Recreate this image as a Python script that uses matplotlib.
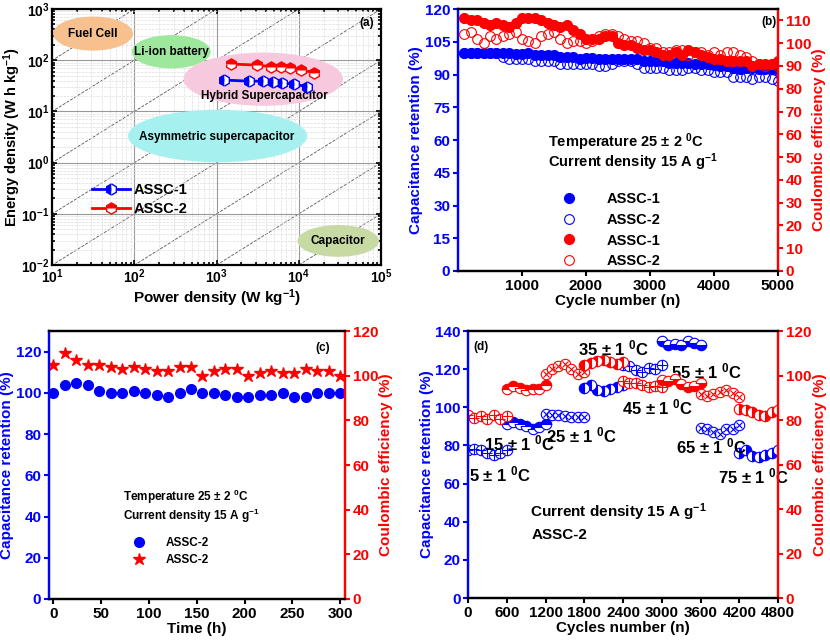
import numpy as np
import matplotlib
matplotlib.use("Agg")
import matplotlib.pyplot as plt
from matplotlib.patches import Ellipse

plt.rcParams['font.family'] = 'Liberation Sans'
plt.rcParams['font.weight'] = 'bold'
plt.rcParams['axes.labelweight'] = 'bold'
plt.rcParams['mathtext.default'] = 'regular'
FS = 8.5

# ---------------- data ----------------
# (a) Ragone
p1 = [1225, 2443, 3700, 4875, 6310, 8630, 12590]
e1 = [41, 39, 39, 38, 36.5, 34, 30.5]
p2 = [1514, 3076, 4571, 6026, 7727, 10670, 15420]
e2 = [84, 80.5, 74.8, 72.5, 69.3, 64.3, 57]
regions = ["Fuel Cell", "Li-ion battery", "Hybrid Supercapacitor", "Asymmetric supercapacitor", "Capacitor"]

# (b) cycling
cycles_b = list(range(100, 5001, 100))
cr1_b = [100,100,100,100,100,100,100,100,99.5,99.5,
         100,99,99,99,99,98,98,98,97,97.5,
         97.5,97,97,97,97,97,97,97,96,96,
         96,96,95.5,95.5,95.5,95.5,95,95,95,94.5,
         94,94,93,92.5,93,93,92.5,92.5,92.5,92]
cr2_b = [100,100,100,100,100,100,98,97,97,97,
         97,96,96,96,96,95,95,95,95,95,
         95,94,94,95,96,96,96,95,93,93,
         93,93,92,92,92,93,93,92,92,91,
         91,91,89,89,89,88,89,89,88,87]
ce1_b = [111,110,110,109,108,109,108,107,109,111,
         111,111,110,109,108,107,108,106,104,102,
         102,102,103,103,100,99,99,98,97,97,
         96,95,95,96,95,97,96,95,94,93,
         93,92,92,92,92,90,91,91,91,92]
ce2_b = [104,105,102,100,103,102,103,104,105,102,
         101,100,103,104,105,102,100,101,101,100,
         101,103,104,104,103,102,101,101,100,98,
         98,96,96,97,97,95,96,96,95,96,
         95,96,96,95,94,92,91,90,91,90]

# (c) time
time_c = [0,12,24,36,48,60,72,84,96,108,120,132,144,156,168,180,192,204,216,228,240,252,264,276,288,300]
cr_c = [100,104,105,104,101,100,100,101,100,99,98,100,102,100,100,99,98,98,99,99,100,98,98,100,100,100]
ce_c = [105,110,107,105,105,104,103,104,103,102,102,104,104,100,102,103,103,100,101,102,101,101,103,102,102,100]

# (d) temperature
temps = ["5", "15", "25", "35", "45", "55", "65", "75"]
seg_start = [0, 600, 1200, 1800, 2400, 3000, 3600, 4200]
seg_offsets = [0, 100, 200, 300, 400, 500, 600]
cr_d = [[77.7,78.2,77.7,76,75,76,77.4],
        [91.4,92.2,91.4,90.2,88.7,89.6,91.4],
        [96.6,96,96,95.4,94.9,94.9,94.9],
        [110,111.5,109,108.8,109.4,110.6,111.5],
        [122.3,121.4,119.3,118.7,120.5,120.2,122],
        [134.7,132.8,133.3,132.8,135,133.9,132.5],
        [89,88.4,87.3,86.1,88.4,88.7,90.5],
        [76,77.4,74.7,73.8,75,76.1,77.4]]
ce_d = [[82.3,80.9,81.8,80.3,82.3,80.6,82],
        [94,95.3,94.3,93.3,94,93.8,95.8],
        [100.8,103,104.5,105.3,103,100.8,101.6],
        [104.9,105.6,106.4,107.1,106,105.3,106],
        [97.4,96.6,96.6,95.9,94.8,95.3,94.8],
        [97.8,97.4,98.6,96.3,94.8,95.5,96.6],
        [91.8,91,91.8,92.6,93.3,92.2,90.3],
        [84.8,84.3,83.6,82.3,82,83.6,84.3]]
label_pos = [(20, 65), (250, 81), (1200, 85), (1700, 131), (2379, 100), (3142, 119), (3214, 79.6), (3863, 64)]

BLUE = '#0000FF'
RED = '#FF0000'

fig = plt.figure(figsize=(8.3, 6.44), dpi=100)

def style_twin(ax, ax2):
    for a in (ax, ax2):
        for s in a.spines.values():
            s.set_linewidth(1.6)
    ax.spines['left'].set_color(BLUE)
    ax2.spines['right'].set_color(RED)
    ax2.spines['left'].set_color(BLUE)
    ax.spines['right'].set_color(RED)
    ax.tick_params(axis='y', colors=BLUE, labelsize=FS + 2.5, width=1.5, labelcolor=BLUE, pad=2)
    ax2.tick_params(axis='y', colors=RED, labelsize=FS + 2.5, width=1.5, labelcolor=RED, pad=2)
    ax.tick_params(axis='x', labelsize=FS + 2.5, width=1.5, pad=2)

# ---------------- (a) ----------------
ax = fig.add_axes([0.063, 0.5885, 0.396, 0.3975])
ax.set_xscale('log'); ax.set_yscale('log')
ax.set_xlim(10, 1e5); ax.set_ylim(1e-2, 1e3)
ax.grid(True, which='major', color='#999999', lw=0.8)
ax.grid(True, which='minor', color='#dddddd', lw=0.5, ls='--')
xs = np.array([1, 1e6])
for k in range(-6, 2):
    ax.plot(xs, xs * 10.0**k, ls='--', color='#555555', lw=0.6, zorder=1)
ells = [(0.124, 0.904, 0.243, 0.133, '#F7C08F'),
        (0.362, 0.833, 0.24, 0.13, '#9EE89E'),
        (0.642, 0.726, 0.485, 0.208, '#F7C9DE'),
        (0.503, 0.504, 0.545, 0.205, '#A6F0F0'),
        (0.87, 0.094, 0.248, 0.124, '#C8DAA4')]
tpos = [(0.124, 0.904), (0.362, 0.833), (0.645, 0.66), (0.5, 0.5), (0.87, 0.094)]
for (cx, cy, w, h, c), name, (tx, ty) in zip(ells, regions, tpos):
    ax.add_patch(Ellipse((cx, cy), w, h, transform=ax.transAxes, color=c, zorder=2, lw=0))
    ax.text(tx, ty, name, transform=ax.transAxes, ha='center', va='center', fontsize=FS, zorder=3)
l1, = ax.plot(p1, e1, '-', color=BLUE, lw=2, marker='h', ms=8, fillstyle='left',
              markerfacecoloralt='white', mec=BLUE, zorder=4, label='ASSC-1')
l2, = ax.plot(p2, e2, '-', color=RED, lw=2, marker='h', ms=8, fillstyle='top',
              markerfacecoloralt='white', mec=RED, zorder=4, label='ASSC-2')
ax.legend(handles=[l1, l2], loc='upper left', bbox_to_anchor=(0.08, 0.37), frameon=False,
          fontsize=FS + 2, handlelength=2.6, handletextpad=0.3, labelspacing=0.3)
ax.text(0.98, 0.97, '(a)', transform=ax.transAxes, ha='right', va='top', fontsize=FS)
ax.set_xlabel('Power density (W kg$^{-1}$)', fontsize=FS + 2.5, labelpad=1)
ax.set_ylabel('Energy density (W h kg$^{-1}$)', fontsize=FS + 2, labelpad=-1)
ax.tick_params(which='both', direction='in', top=True, right=True, labelsize=FS + 1.5, width=1.2, pad=2)
for s in ax.spines.values():
    s.set_linewidth(1.6)

# ---------------- (b) ----------------
ax = fig.add_axes([0.5518, 0.5792, 0.3855, 0.4068])
ax2 = ax.twinx()
ax.set_xlim(0, 5000); ax.set_ylim(0, 120); ax2.set_ylim(0, 115)
ax.set_xticks([1000, 2000, 3000, 4000, 5000])
ax.set_yticks(range(0, 121, 15)); ax2.set_yticks(range(0, 111, 10))
h1, = ax.plot(cycles_b, cr1_b, 'o', color=BLUE, ms=7, ls='none', label='ASSC-1')
h2, = ax.plot(cycles_b, cr2_b, 'o', mfc='none', mec=BLUE, ms=7, mew=0.8, ls='none', label='ASSC-2')
h3, = ax2.plot(cycles_b, ce1_b, 'o', color=RED, ms=7, ls='none', label='ASSC-1')
h4, = ax2.plot(cycles_b, ce2_b, 'o', mfc='none', mec=RED, ms=7, mew=0.8, ls='none', label='ASSC-2')
style_twin(ax, ax2)
ax.set_xlabel('Cycle number (n)', fontsize=FS + 2.5, labelpad=1)
ax.set_ylabel('Capacitance retention (%)', fontsize=FS + 2.5, color=BLUE, labelpad=1)
ax2.set_ylabel('Coulombic efficiency (%)', fontsize=FS + 2.5, color=RED, labelpad=1)
ax.text(0.28, 0.49, 'Temperature 25 $\\pm$ 2 $^0$C', transform=ax.transAxes, fontsize=FS + 2, va='center')
ax.text(0.28, 0.415, 'Current density 15 A g$^{-1}$', transform=ax.transAxes, fontsize=FS + 2, va='center')
ax2.legend(handles=[h1, h2, h3, h4], loc='upper left', bbox_to_anchor=(0.26, 0.35), frameon=False,
           fontsize=FS + 2, handletextpad=1.6, labelspacing=0.45)
ax2.text(0.995, 0.975, '(b)', transform=ax.transAxes, ha='right', va='top', fontsize=FS)

# ---------------- (c) ----------------
ax = fig.add_axes([0.059, 0.0699, 0.3566, 0.4161])
ax2 = ax.twinx()
ax.set_xlim(-4.5, 305); ax.set_ylim(0, 130); ax2.set_ylim(0, 120)
ax.set_xticks(range(0, 301, 50))
ax.set_yticks(range(0, 121, 20)); ax2.set_yticks(range(0, 121, 20))
c1, = ax.plot(time_c, cr_c, 'o', color=BLUE, ms=7, ls='none', label='ASSC-2')
c2, = ax2.plot(time_c, ce_c, '*', color=RED, ms=9, ls='none', label='ASSC-2')
style_twin(ax, ax2)
for s in ('top', 'bottom'):
    ax.spines[s].set_color('black'); ax2.spines[s].set_color('black')
ax.set_xlabel('Time (h)', fontsize=FS + 2.5, labelpad=1)
ax.set_ylabel('Capacitance retention (%)', fontsize=FS + 2.5, color=BLUE, labelpad=1)
ax2.set_ylabel('Coulombic efficiency (%)', fontsize=FS + 2.5, color=RED, labelpad=1)
ax.text(0.25, 0.38, 'Temperature 25 $\\pm$ 2 $^0$C', transform=ax.transAxes, fontsize=FS, va='center')
ax.text(0.25, 0.31, 'Current density 15 A g$^{-1}$', transform=ax.transAxes, fontsize=FS, va='center')
ax2.legend(handles=[c1, c2], loc='upper left', bbox_to_anchor=(0.23, 0.27), frameon=False,
           fontsize=FS, handletextpad=1.2, labelspacing=0.4)
ax2.text(0.95, 0.96, '(c)', transform=ax.transAxes, ha='right', va='top', fontsize=FS)

# ---------------- (d) ----------------
ax = fig.add_axes([0.5639, 0.0714, 0.3735, 0.4146])
ax2 = ax.twinx()
ax.set_xlim(0, 4800); ax.set_ylim(0, 140); ax2.set_ylim(0, 120)
ax.set_xticks(range(0, 4801, 600))
ax.set_yticks(range(0, 141, 20)); ax2.set_yticks(range(0, 121, 20))
styles = ['plus', 'top', 'x', 'left', 'plus', 'bottom', 'x', 'right']
for i in range(8):
    xx = [seg_start[i] + o for o in seg_offsets]
    for a, yy, col in ((ax, cr_d[i], BLUE), (ax2, ce_d[i], RED)):
        st = styles[i]
        if st in ('plus', 'x'):
            a.plot(xx, yy, 'o', mfc='white', mec=col, ms=7.5, mew=0.8, ls='none')
            a.plot(xx, yy, '+' if st == 'plus' else 'x', color=col, ms=6.5 if st == 'plus' else 5, mew=0.8, ls='none')
        else:
            a.plot(xx, yy, 'o', fillstyle=st, color=col, markerfacecoloralt='white', mec=col,
                   ms=7.5, mew=0.8, ls='none')
    ax.text(label_pos[i][0], label_pos[i][1], temps[i] + ' $\\pm$ 1 $^0$C', fontsize=FS + 3.5, va='center')
style_twin(ax, ax2)
ax.set_xlabel('Cycles number (n)', fontsize=FS + 2.5, labelpad=1)
ax.set_ylabel('Capacitance retention (%)', fontsize=FS + 2.5, color=BLUE, labelpad=1)
ax2.set_ylabel('Coulombic efficiency (%)', fontsize=FS + 2.5, color=RED, labelpad=1)
ax.text(963, 45, 'Current density 15 A g$^{-1}$', fontsize=FS + 2.5, va='center')
ax.text(990, 33, 'ASSC-2', fontsize=FS + 2.5, va='center')
ax.text(88, 131.6, '(d)', fontsize=FS, va='center')

fig.savefig('out.png', dpi=100)
